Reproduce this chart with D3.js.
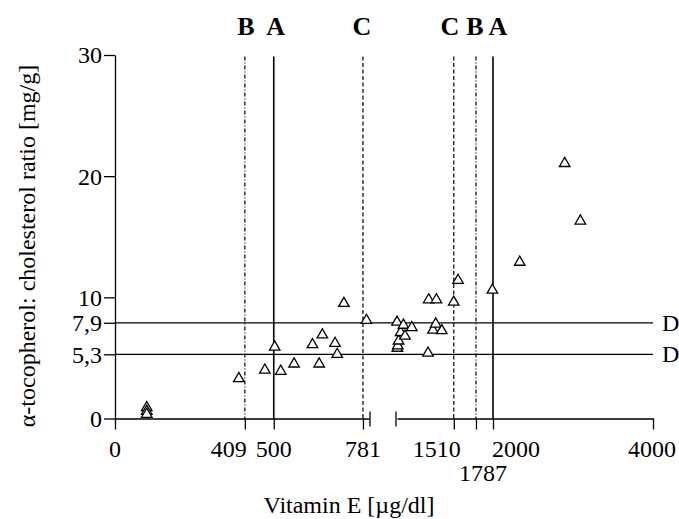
<!DOCTYPE html>
<html lang="en">
	<head>
		<meta charset="UTF-8" />
		<script src="https://cdn.jsdelivr.net/npm/d3@7/dist/d3.min.js"></script>
		<title>Vitamin E vs alpha-tocopherol ratio</title>
		<style>
			body { margin: 0; background: #fff; }
			text { font-family: "Liberation Serif", "Times New Roman", serif; fill: #000; }
		</style>
	</head>
	<body>
		<script>
			// data
			var vitE = [100, 100, 100, 390, 472, 522, 503, 564, 622, 643, 653, 693, 700, 721, 792, 800,
				805, 810, 820, 845, 880, 900, 985, 1188, 1250, 1284, 1360, 1196, 1292, 1509, 1563, 1992, 2334, 2896, 3092];
			var ratio = [0.9, 0.6, 0.35, 3.3, 4.0, 3.9, 5.9, 4.5, 6.1, 4.5, 6.9, 6.2, 5.3, 9.5, 8.1, 7.95,
				5.8, 6.0, 6.4, 7.1, 7.7, 6.8, 7.5, 5.4, 7.3, 7.8, 7.25, 9.8, 9.8, 9.6, 11.4, 10.6, 12.9, 21.05, 16.3];

			var vLines = [409, 500, 781, 1510, 1787, 2000];
			var vLineNames = ["B", "A", "C", "C", "B", "A"];
			var hLines = [7.9, 5.3];
			var hLineNames = ["D", "D"];

			var xTicks = [0, 409, 500, 781, 1510, 1787, 2000, 4000];
			var yTicks = [0, 5.3, 7.9, 10, 20, 30];
			var yTickLabels = ["0", "5,3", "7,9", "10", "20", "30"];

			var w = 679;
			var h = 519;
			var breakAt = 800;

			var svg = d3.select("body").append("svg")
				.attr("width", w)
				.attr("height", h);

			// broken x axis: two linear pieces
			var xLeft = d3.scaleLinear().domain([0, breakAt]).range([115, 369]);
			var xRight = d3.scaleLinear().domain([breakAt, 4000]).range([397, 653]);
			function x(v) {
				return v < breakAt ? xLeft(v) : xRight(v);
			}
			var y = d3.scaleLinear().domain([0, 30]).range([418.5, 55]);

			var ink = "#000";
			var sw = 1.3;

			// reference lines
			var dashes = { A: null, B: "4,2,1,2", C: "4,2.5" };
			svg.selectAll(".vline")
				.data(vLines)
				.enter()
				.append("line")
				.attr("class", "vline")
				.attr("x1", function (d) { return x(d); })
				.attr("x2", function (d) { return x(d); })
				.attr("y1", y(30) + 1.5)
				.attr("y2", y(0))
				.attr("stroke", ink)
				.attr("stroke-width", function (d, i) { return vLineNames[i] == "A" ? 1.6 : 1.2; })
				.attr("stroke-dasharray", function (d, i) { return dashes[vLineNames[i]]; });

			var nameShift = [1, 2, -1, -4, -1, 5];
			svg.selectAll(".vname")
				.data(vLines)
				.enter()
				.append("text")
				.attr("class", "vname")
				.attr("x", function (d, i) { return x(d) + nameShift[i]; })
				.attr("y", 35)
				.attr("text-anchor", "middle")
				.attr("font-size", "26px")
				.attr("font-weight", "bold")
				.text(function (d, i) { return vLineNames[i]; });

			svg.selectAll(".hline")
				.data(hLines)
				.enter()
				.append("line")
				.attr("class", "hline")
				.attr("x1", xLeft(0))
				.attr("x2", xRight(4000))
				.attr("y1", function (d) { return y(d); })
				.attr("y2", function (d) { return y(d); })
				.attr("stroke", ink)
				.attr("stroke-width", sw);

			svg.selectAll(".hname")
				.data(hLines)
				.enter()
				.append("text")
				.attr("class", "hname")
				.attr("x", xRight(4000) + 9)
				.attr("y", function (d) { return y(d) + 8; })
				.attr("font-size", "24px")
				.text(function (d, i) { return hLineNames[i]; });

			// y axis
			var yAxis = d3.axisLeft(y)
				.tickValues(yTicks)
				.tickSize(11)
				.tickSizeOuter(0)
				.tickFormat(function (d, i) { return yTickLabels[i]; });
			var gy = svg.append("g")
				.attr("transform", "translate(" + xLeft(0) + ",0)")
				.call(yAxis);
			gy.select(".domain").attr("stroke-width", sw);
			gy.selectAll(".tick line").attr("stroke-width", sw);
			gy.selectAll(".tick text")
				.attr("font-family", "Liberation Serif, serif")
				.attr("font-size", "24px")
				.attr("x", -13)
				.attr("dy", "0.33em");

			// x axis, two segments
			var leftTicks = xTicks.filter(function (d) { return d < breakAt; });
			var rightTicks = xTicks.filter(function (d) { return d >= breakAt; });
			[[xLeft, leftTicks], [xRight, rightTicks]].forEach(function (p) {
				var g = svg.append("g")
					.attr("transform", "translate(0," + y(0) + ")")
					.call(d3.axisBottom(p[0]).tickValues(p[1]).tickSize(11).tickSizeOuter(0).tickFormat(""));
				g.select(".domain").attr("stroke-width", sw);
				g.selectAll(".tick line").attr("stroke-width", sw);
			});
			// break marks
			[xLeft(breakAt) + 1, xRight(breakAt) - 1].forEach(function (bx) {
				svg.append("line")
					.attr("x1", bx).attr("x2", bx)
					.attr("y1", y(0) - 7).attr("y2", y(0) + 8)
					.attr("stroke", ink)
					.attr("stroke-width", sw);
			});

			// tick labels, some nudged to avoid overlaps
			var labelPlace = {
				0: ["middle", 0, 0],
				409: ["end", 2, 0],
				500: ["middle", 0, 0],
				781: ["middle", 0, 0],
				1510: ["end", 7, 0],
				1787: ["middle", 7, 24],
				2000: ["start", -1, 0],
				4000: ["middle", -1, 0]
			};
			svg.selectAll(".xlab")
				.data(xTicks)
				.enter()
				.append("text")
				.attr("class", "xlab")
				.attr("x", function (d) { return x(d) + labelPlace[d][1]; })
				.attr("y", function (d) { return y(0) + 38 + labelPlace[d][2]; })
				.attr("text-anchor", function (d) { return labelPlace[d][0]; })
				.attr("font-size", "24px")
				.text(function (d) { return d; });

			// axis titles
			svg.append("text")
				.attr("x", 349)
				.attr("y", 513)
				.attr("text-anchor", "middle")
				.attr("font-size", "24px")
				.text("Vitamin E [\u00b5g/dl]");

			svg.append("text")
				.attr("transform", "translate(35,246) rotate(-90)")
				.attr("text-anchor", "middle")
				.attr("font-size", "24px")
				.text("\u03b1-tocopherol: cholesterol ratio [mg/g]");

			// points
			var tri = d3.symbol().type(d3.symbolTriangle).size(48);
			svg.selectAll(".pt")
				.data(vitE)
				.enter()
				.append("path")
				.attr("class", "pt")
				.attr("d", tri)
				.attr("transform", function (d, i) {
					return "translate(" + x(d) + "," + y(ratio[i]) + ")";
				})
				.attr("fill", "#fff")
				.attr("stroke", ink)
				.attr("stroke-width", 1.3);
		</script>
	</body>
</html>
